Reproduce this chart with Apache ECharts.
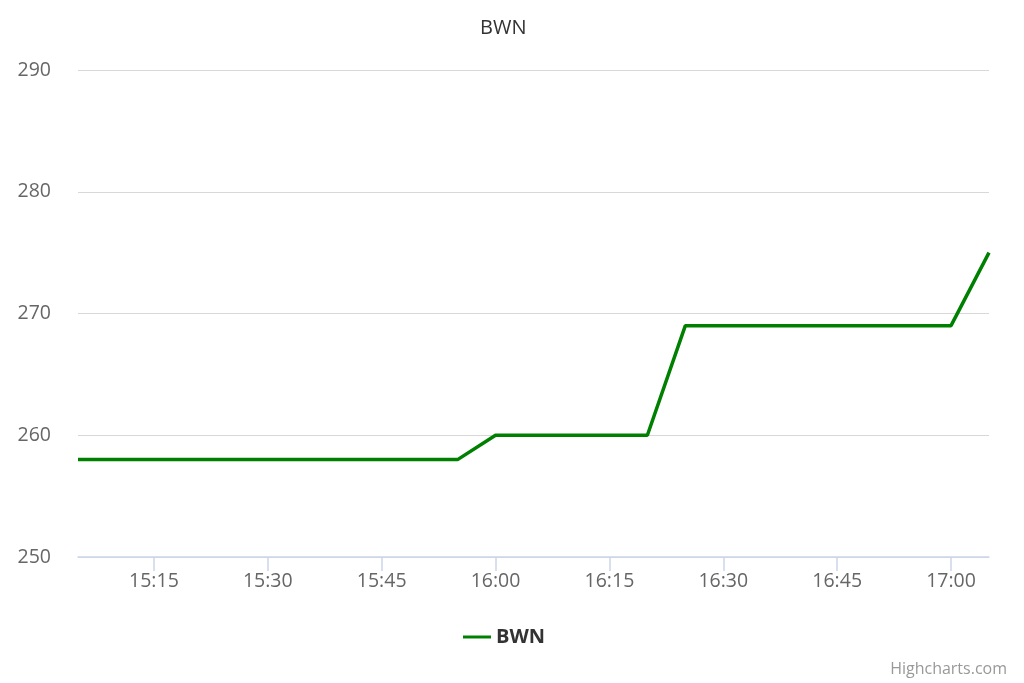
<!DOCTYPE html>
<html>
<head>
<meta charset="utf-8">
<script src="https://cdn.jsdelivr.net/npm/echarts@6/dist/echarts.min.js"></script>
<style>
html,body{margin:0;padding:0;background:#fff;}
#chart{width:1024px;height:683px;}
</style>
</head>
<body>
<div id="chart"></div>
<script>
var times = ['15:05','15:10','15:15','15:20','15:25','15:30','15:35','15:40','15:45','15:50','15:55',
  '16:00','16:05','16:10','16:15','16:20','16:25','16:30','16:35','16:40','16:45','16:50','16:55','17:00','17:05'];
var values = [258,258,258,258,258,258,258,258,258,258,258,
  260,260,260,260,260,269,269,269,269,269,269,269,269,275];
var xTickLabels = ['15:15','15:30','15:45','16:00','16:15','16:30','16:45','17:00'];
var yTicks = [250,260,270,280,290];
var seriesName = 'BWN';

function toMin(t){var p=t.split(':');return (+p[0])*60+(+p[1]);}
function fmt(m){var h=Math.floor(m/60),mm=m%60;return h+':'+(mm<10?'0':'')+mm;}

var data = times.map(function(t,i){return [toMin(t), values[i]];});
var xTicks = xTickLabels.map(toMin);
var FONT = '"Open Sans", "Noto Sans", sans-serif';

var chart = echarts.init(document.getElementById('chart'));
chart.setOption({
  animation:false,
  textStyle:{fontFamily:FONT},
  title:{text:seriesName,left:475,top:13,
    textStyle:{fontFamily:FONT,fontSize:20,fontWeight:'normal',color:'#333333'}},
  grid:{left:78,right:35,top:70,bottom:126},
  xAxis:{
    type:'value',
    min:toMin(times[0]),max:toMin(times[times.length-1]),
    splitLine:{show:false},
    axisLine:{show:true,lineStyle:{color:'#ccd6eb',width:1.5}},
    axisTick:{show:true,customValues:xTicks,length:14,lineStyle:{color:'#ccd6eb',width:1.5}},
    axisLabel:{customValues:xTicks,formatter:function(v){return fmt(v);},
      color:'#666666',fontSize:19.5,margin:14,fontFamily:FONT}
  },
  yAxis:{
    type:'value',min:yTicks[0],max:yTicks[yTicks.length-1],interval:10,
    axisLine:{show:false},axisTick:{show:false},
    splitLine:{lineStyle:{color:'#d8d8d8',width:1.2}},
    axisLabel:{color:'#666666',fontSize:19.5,margin:27,fontFamily:FONT}
  },
  legend:{
    bottom:31,left:458,
    itemWidth:28,itemHeight:3,
    icon:'rect',
    textStyle:{fontFamily:FONT,fontSize:20,fontWeight:'bold',color:'#333333'},
    data:[{name:seriesName,icon:'rect'}]
  },
  graphic:[{type:'text',right:17,bottom:6,
    style:{text:'Highcharts.com',fill:'#999999',fontSize:16,fontFamily:FONT}}],
  series:[{
    name:seriesName,type:'line',data:data,
    showSymbol:false,symbol:'none',
    lineStyle:{color:'#008000',width:3.5},
    itemStyle:{color:'#008000'}
  }]
});
</script>
</body>
</html>
